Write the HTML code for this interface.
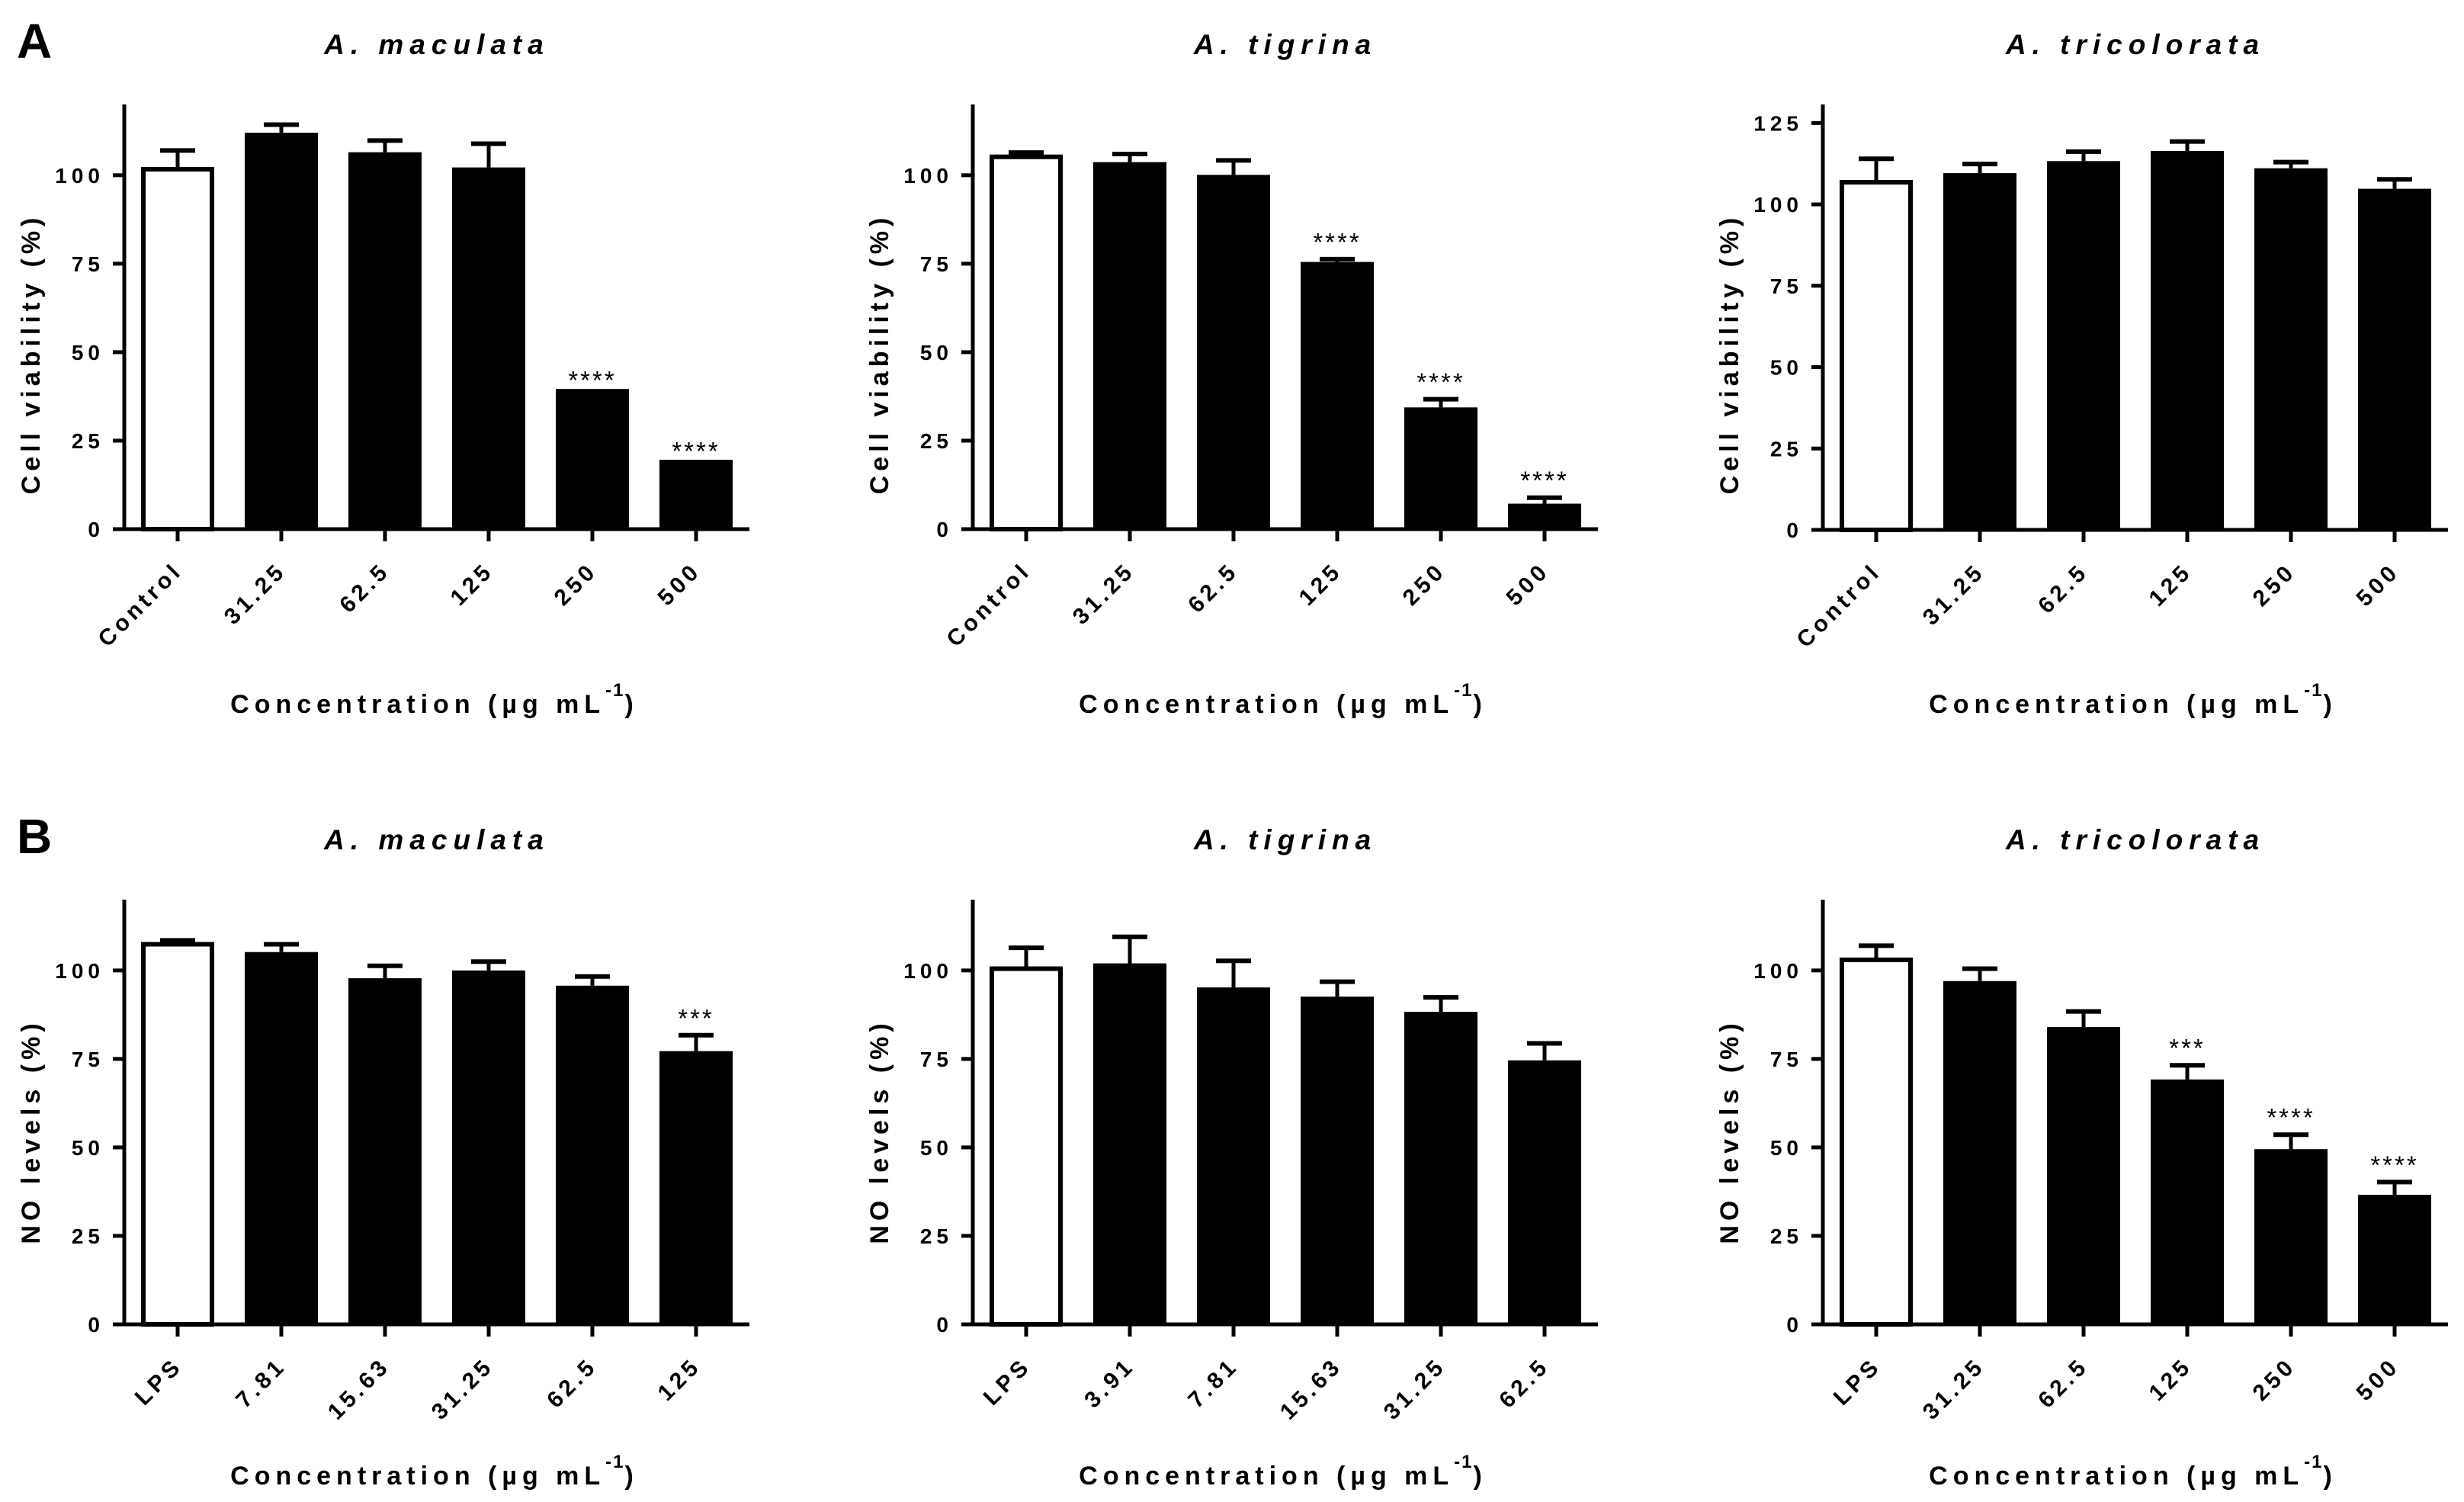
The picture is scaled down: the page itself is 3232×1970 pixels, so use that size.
<!DOCTYPE html>
<html><head><meta charset="utf-8">
<style>
html,body{margin:0;padding:0;background:#fff;}
svg{display:block;font-family:"Liberation Sans",Arial,sans-serif;font-weight:bold;}
</style></head>
<body>
<svg id="fig" width="3232" height="1970" viewBox="0 0 3232 1970" xmlns="http://www.w3.org/2000/svg">
<text x="22" y="76" font-size="64">A</text>
<text x="22" y="1119" font-size="64">B</text>
</svg>
<script>
// ---- data ----
const titles = ["A. maculata","A. tigrina","A. tricolorata","A. maculata","A. tigrina","A. tricolorata"];
const catsA = ["Control","31.25","62.5","125","250","500"];
const catsB1 = ["LPS","7.81","15.63","31.25","62.5","125"];
const catsB2 = ["LPS","3.91","7.81","15.63","31.25","62.5"];
const catsB3 = ["LPS","31.25","62.5","125","250","500"];
const valA1 = [101.7,112,106.5,102.2,39.6,19.6];
const errA1 = [5.3,2.3,3.3,6.7,0,0];
const valA2 = [105.2,103.7,100.1,75.5,34.4,7.2];
const errA2 = [1.2,2.3,4.1,0.8,2.3,1.7];
const valA3 = [106.8,109.6,113.3,116.4,111.1,104.8];
const errA3 = [7.2,2.8,2.9,2.9,1.9,2.9];
const valB1 = [107.4,105.2,97.8,100,95.7,77.2];
const errB1 = [1.1,2.2,3.5,2.5,2.6,4.5];
const valB2 = [100.5,102,95.2,92.6,88.3,74.6];
const errB2 = [5.9,7.5,7.5,4.2,4.1,4.8];
const valB3 = [103,97,84,69.2,49.5,36.6];
const errB3 = [4,3.5,4.4,4,4.1,3.6];
const starsA1 = ["","","","","****","****"];
const starsA2 = ["","","","****","****","****"];
const starsA3 = ["","","","","",""];
const starsB1 = ["","","","","","***"];
const starsB2 = ["","","","","",""];
const starsB3 = ["","","","***","****","****"];
const ticksStd = [0,25,50,75,100];
const ticksA3 = [0,25,50,75,100,125];

const NS="http://www.w3.org/2000/svg";
const svg=document.getElementById('fig');
function mk(tag,attrs,parent){const e=document.createElementNS(NS,tag);for(const k in attrs)e.setAttribute(k,attrs[k]);(parent||svg).appendChild(e);return e;}

const panels=[
 {ox:0,base:694,ymax:120,top:137,cats:catsA,val:valA1,err:errA1,st:starsA1,ticks:ticksStd,yt:"Cell viability (%)",row:0,id:"a1"},
 {ox:1113,base:694,ymax:120,top:137,cats:catsA,val:valA2,err:errA2,st:starsA2,ticks:ticksStd,yt:"Cell viability (%)",row:0,id:"a2"},
 {ox:2228,base:695,ymax:130.7,top:137,cats:catsA,val:valA3,err:errA3,st:starsA3,ticks:ticksA3,yt:"Cell viability (%)",row:0,id:"a3"},
 {ox:0,base:1737,ymax:120,top:1180,cats:catsB1,val:valB1,err:errB1,st:starsB1,ticks:ticksStd,yt:"NO levels (%)",row:1,id:"b1"},
 {ox:1113,base:1737,ymax:120,top:1180,cats:catsB2,val:valB2,err:errB2,st:starsB2,ticks:ticksStd,yt:"NO levels (%)",row:1,id:"b2"},
 {ox:2228,base:1737,ymax:120,top:1180,cats:catsB3,val:valB3,err:errB3,st:starsB3,ticks:ticksStd,yt:"NO levels (%)",row:1,id:"b3"}
];

panels.forEach((p,pi)=>{
  const g=mk('g',{});
  
  
  const ax=163+p.ox;
  const y=v=>p.base-(v/p.ymax)*(p.base-p.top);
  const x=i=>233+p.ox+i*136;
  const bw=96;
  const t=mk('text',{x:ax+410,y:p.row?1114:71,'font-size':37,'font-style':'italic','text-anchor':'middle','letter-spacing':8},g);
  t.textContent=titles[pi];
  
  
  p.val.forEach((v,i)=>{
    const cx=x(i);
    const bt=y(v);
    const fill=i===0;
    const r=mk('rect',fill?{x:cx-bw/2+3,y:bt,width:bw-6,height:p.base-bt,fill:'#fff',stroke:'#000','stroke-width':6}:{x:cx-bw/2,y:bt,width:bw,height:p.base-bt,fill:'#000'},g);
    
    
    const e=p.err[i];
    let topY=bt;
    if(e>0){
      const et=y(v+e);
      topY=et-3;
      const l=mk('line',{x1:cx,x2:cx,y1:bt,y2:et,stroke:'#000','stroke-width':5},g);
      
      
      const c=mk('line',{x1:cx-23,x2:cx+23,y1:et,y2:et,stroke:'#000','stroke-width':6},g);
      
      
    }
    if(p.st[i]){
      const s=mk('text',{x:cx,y:topY+(e>0?-6:2)+(-2),'font-size':33,'font-weight':'normal','text-anchor':'middle','letter-spacing':3},g);
      s.textContent=p.st[i];
      
      
    }
    const tk=mk('line',{x1:cx,x2:cx,y1:p.base,y2:p.base+16,stroke:'#000','stroke-width':5},g);
    
    
    const lx=cx+8, ly=p.base+56;
    const tl=mk('text',{x:lx,y:ly,'font-size':30,'text-anchor':'end','letter-spacing':5,transform:`rotate(-45 ${lx} ${ly})`},g);
    tl.textContent=p.cats[i];
    
    
  });
  const ya=mk('line',{x1:ax,x2:ax,y1:p.top,y2:p.base+2.5,stroke:'#000','stroke-width':5},g);
  
  
  const xa=mk('line',{x1:ax-15,x2:ax+820,y1:p.base,y2:p.base,stroke:'#000','stroke-width':5},g);
  
  
  p.ticks.forEach(tv=>{
    const ty=y(tv);
    const tk=mk('line',{x1:ax-15,x2:ax,y1:ty,y2:ty,stroke:'#000','stroke-width':5},g);
    
    
    const tl=mk('text',{x:ax-26,y:ty+10,'font-size':28,'text-anchor':'end','letter-spacing':6},g);
    tl.textContent=tv;
    
    
  });
  const yc=p.row?1484:464;
  const yx=p.ox+52;
  const yt=mk('text',{x:yx,y:yc,'font-size':34,'text-anchor':'middle','letter-spacing':6,transform:`rotate(-90 ${yx} ${yc})`},g);
  yt.textContent=p.yt;
  
  
  const xb=p.row?1947:935;
  const xt=mk('text',{x:ax+407,y:xb,'font-size':34,'text-anchor':'middle','letter-spacing':7},g);
  
  
  const s1=mk('tspan',{},xt); s1.textContent='Concentration (µg mL';
  const s2=mk('tspan',{dy:-22,'font-size':24,'letter-spacing':2},xt); s2.textContent='-1';
  const s3=mk('tspan',{dy:22},xt); s3.textContent=')';
});
</script>
</body></html>
